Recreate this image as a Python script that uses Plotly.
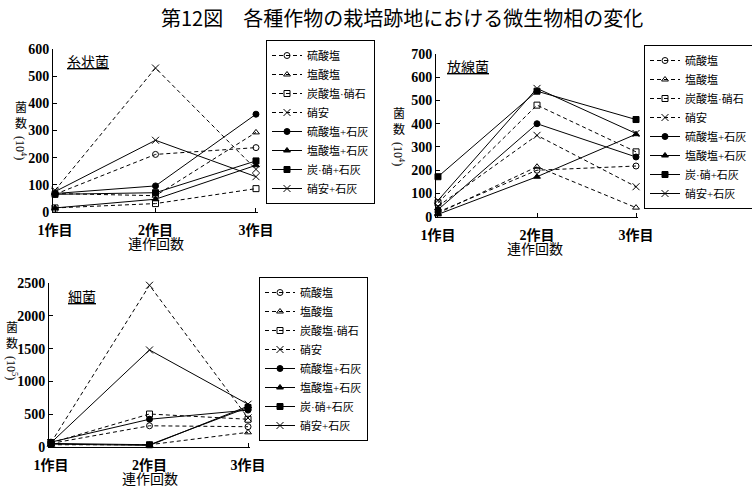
import plotly.graph_objects as go

W, H = 752, 487

categories = ["1作目", "2作目", "3作目"]
series_names = ["硫酸塩", "塩酸塩", "炭酸塩·硝石", "硝安",
                "硫酸塩+石灰", "塩酸塩+石灰", "炭·硝+石灰", "硝安+石灰"]

# 糸状菌 (10^4)
itojo = [
    [65, 212, 237],
    [68, 60, 293],
    [15, 31, 86],
    [80, 530, 157],
    [68, 96, 360],
    [15, 47, 172],
    [65, 71, 188],
    [75, 264, 130],
]
# 放線菌 (10^4)
hosen = [
    [20, 200, 218],
    [15, 215, 39],
    [60, 480, 279],
    [45, 350, 129],
    [30, 400, 257],
    [10, 172, 355],
    [172, 540, 418],
    [70, 552, 358],
]
# 細菌 (10^5)
saikin = [
    [50, 320, 306],
    [30, 30, 220],
    [60, 500, 420],
    [60, 2470, 440],
    [70, 420, 560],
    [40, 20, 620],
    [50, 30, 600],
    [60, 1480, 650],
]

y_ticks_1 = [0, 100, 200, 300, 400, 500, 600]
y_ticks_2 = [0, 100, 200, 300, 400, 500, 600, 700]
y_ticks_3 = [0, 500, 1000, 1500, 2000, 2500]

symbols = ["circle-open", "triangle-up-open", "square-open", "x-thin-open",
           "circle", "triangle-up", "square", "x-thin-open"]
dashes = ["4px,3px"] * 4 + ["solid"] * 4

SERIF = "Liberation Serif, Noto Sans CJK JP, serif"
JP = "Noto Sans CJK JP, sans-serif"


def px(x):
    return x / W


def py(y):
    return 1 - y / H


fig = go.Figure()
xs = [0, 1, 2]
panels = [(itojo, "x", "y", "legend"), (hosen, "x2", "y2", "legend2"),
          (saikin, "x3", "y3", "legend3")]
for data, xa, ya, lg in panels:
    for i, name in enumerate(series_names):
        fig.add_trace(go.Scatter(
            x=xs, y=data[i], name=name, xaxis=xa, yaxis=ya, legend=lg,
            mode="lines+markers", cliponaxis=False,
            line=dict(color="black", width=1, dash=dashes[i]),
            marker=dict(symbol=symbols[i], size=6 if "x" not in symbols[i] else 7,
                        color="black", line=dict(color="black", width=1)),
        ))

ax_common = dict(showline=True, linecolor="black", linewidth=1, showgrid=False,
                 zeroline=False, ticks="inside", ticklen=4, tickcolor="black",
                 automargin=False,
                 tickfont=dict(family=SERIF, size=14, color="black", weight="bold"))

xr = [-0.02, 2.02]
xa_extra = dict(ticklabelstandoff=5)
fig.update_layout(
    width=W, height=H, margin=dict(l=0, r=0, t=0, b=0, autoexpand=False),
    paper_bgcolor="white", plot_bgcolor="white",
    xaxis=dict(domain=[px(53), px(258)], range=xr, anchor="y",
               tickvals=xs, ticktext=categories, **ax_common, **xa_extra),
    yaxis=dict(domain=[py(212), py(49)], range=[0, 600], anchor="x",
               tickvals=y_ticks_1, **ax_common),
    xaxis2=dict(domain=[px(436), px(638)], range=xr, anchor="y2",
                tickvals=xs, ticktext=categories, **ax_common, **xa_extra),
    yaxis2=dict(domain=[py(216.7), py(54)], range=[0, 700], anchor="x2",
                tickvals=y_ticks_2, **ax_common),
    xaxis3=dict(domain=[px(49), px(250)], range=xr, anchor="y3",
                tickvals=xs, ticktext=categories, **ax_common, **xa_extra),
    yaxis3=dict(domain=[py(446.7), py(283.3)], range=[0, 2500], anchor="x3",
                tickvals=y_ticks_3, **ax_common),
)

leg_common = dict(bgcolor="white", bordercolor="black", borderwidth=1,
                  font=dict(family=SERIF, size=11, color="black"),
                  yanchor="top", tracegroupgap=0, itemwidth=30,
                  xanchor="left", itemclick=False)
fig.update_layout(
    legend=dict(x=px(266), y=py(40), **leg_common),
    legend2=dict(x=px(644), y=py(45), **leg_common),
    legend3=dict(x=px(259), y=py(277), **leg_common),
)

ann = []


def add_text(x, y, text, size=14, angle=0, family=SERIF):
    ann.append(dict(x=px(x), y=py(y), xref="paper", yref="paper", text=text,
                    showarrow=False, textangle=angle,
                    font=dict(family=family, size=size, color="black"),
                    xanchor="center", yanchor="middle"))


add_text(402, 18, "第12図　各種作物の栽培跡地における微生物相の変化", size=20, family=JP)
add_text(88, 63, "<u>糸状菌</u>", size=14)
add_text(468, 68, "<u>放線菌</u>", size=14)
add_text(82, 297, "<u>細菌</u>", size=14)
for xx, y0, exp in [(21, 116, "4"), (399, 122, "4"), (12, 336, "5")]:
    add_text(xx, y0, "菌<br>数", size=12)
    add_text(xx, y0 + 32, "(10<sup>%s</sup>)" % exp, size=12, angle=90)
add_text(156, 245, "連作回数", size=14)
add_text(535, 250, "連作回数", size=14)
add_text(150, 479, "連作回数", size=14)
fig.update_layout(annotations=ann)

fig.write_html("out.html")
